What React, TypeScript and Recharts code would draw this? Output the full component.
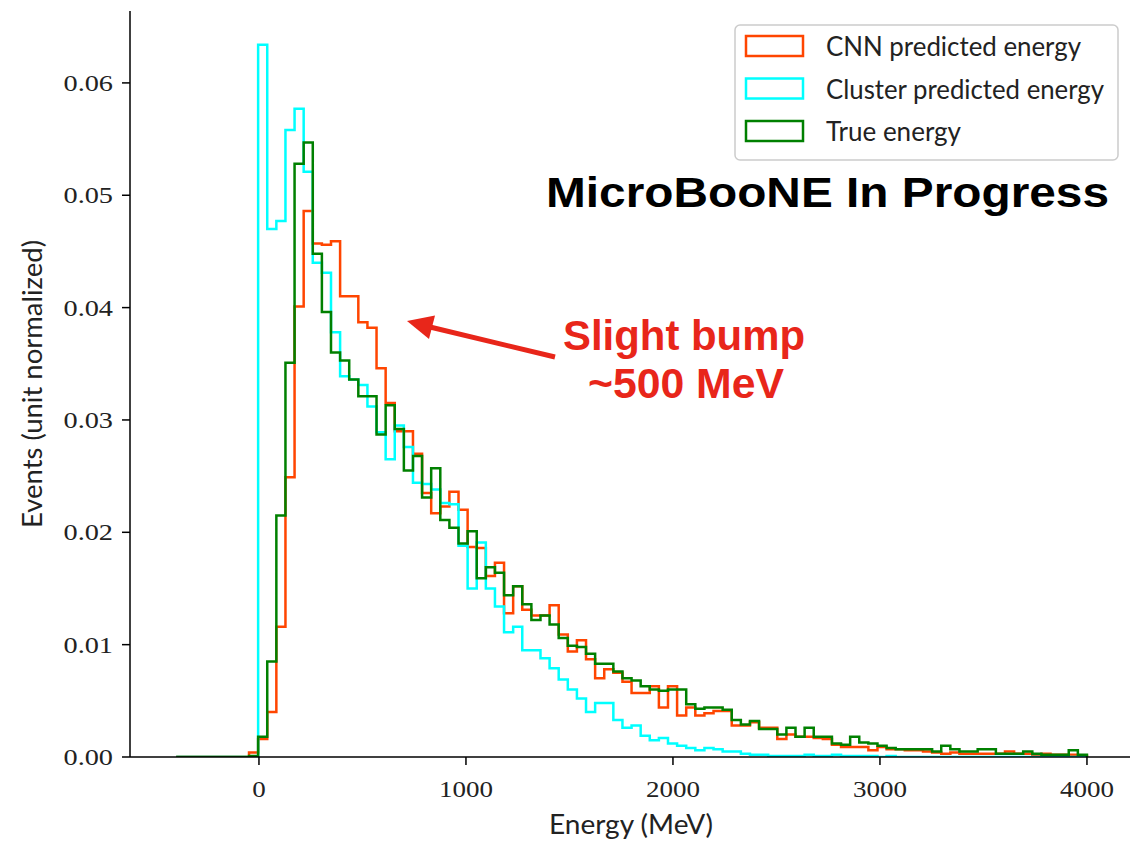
import React from 'react';
import { ComposedChart, Line, XAxis, YAxis, Legend } from 'recharts';

const BIN_START = -400;
const BIN_WIDTH = 44;

const cnnEnergy = [
  0, 0, 0, 0, 0, 0, 0, 0, 0.0004, 0.0016,
  0.0040, 0.0116, 0.0249, 0.0401, 0.0486, 0.0457, 0.0456, 0.0459, 0.0410, 0.0410,
  0.0387, 0.0382, 0.0346, 0.0315, 0.0290, 0.0290, 0.0270, 0.0235, 0.0217, 0.0223,
  0.0236, 0.0220, 0.0187, 0.0186, 0.0161, 0.0173, 0.0128, 0.0152, 0.0131, 0.0126,
  0.0126, 0.0135, 0.0109, 0.0094, 0.0104, 0.0087, 0.0070, 0.0078, 0.0075, 0.0067,
  0.0057, 0.0057, 0.0063, 0.0044, 0.0063, 0.0037, 0.0044, 0.0037, 0.0039, 0.0041,
  0.0041, 0.0028, 0.0028, 0.0031, 0.0026, 0.0026, 0.0016, 0.0020, 0.0018, 0.0018,
  0.0017, 0.0016, 0.0011, 0.0009, 0.0009, 0.0009, 0.0006, 0.0009, 0.0007, 0.0007,
  0.0006, 0.0006, 0.0005, 0.0004, 0.0003, 0.0004, 0.0003, 0.0003, 0.0003, 0.0003,
  0.0003, 0.0005, 0.0003, 0.0003, 0.0002, 0.0003, 0.0002, 0.0002, 0.0002, 0.0001,
];

const clusterEnergy = [
  0, 0, 0, 0, 0, 0, 0, 0, 0, 0.0634,
  0.0470, 0.0477, 0.0558, 0.0577, 0.0521, 0.0440, 0.0431, 0.0378, 0.0339, 0.0336,
  0.0331, 0.0312, 0.0289, 0.0265, 0.0295, 0.0276, 0.0244, 0.0243, 0.0238, 0.0226,
  0.0225, 0.0188, 0.0150, 0.0191, 0.0150, 0.0134, 0.0111, 0.0116, 0.0095, 0.0095,
  0.0088, 0.0079, 0.0069, 0.0060, 0.0052, 0.0040, 0.0048, 0.0048, 0.0033, 0.0026,
  0.0028, 0.0019, 0.0015, 0.0017, 0.0012, 0.0010, 0.0008, 0.0006, 0.0008, 0.0007,
  0.0005, 0.0005, 0.0003, 0.0002, 0.0002, 0.0001, 0.0001, 0.0001, 0.0001, 0.0002,
  0.0001, 0.0001, 0.0002, 0.0001, 0.0001, 0.0001, 0.0001, 0, 0.0001, 0,
  0, 0, 0, 0, 0, 0, 0, 0, 0, 0,
  0, 0, 0, 0, 0, 0, 0, 0, 0, 0,
];

const trueEnergy = [
  0, 0, 0, 0, 0, 0, 0, 0, 0.0001, 0.0018,
  0.0085, 0.0215, 0.0351, 0.0528, 0.0547, 0.0448, 0.0396, 0.0360, 0.0353, 0.0336,
  0.0321, 0.0321, 0.0287, 0.0313, 0.0292, 0.0255, 0.0268, 0.0231, 0.0257, 0.0211,
  0.0204, 0.0190, 0.0201, 0.0159, 0.0169, 0.0164, 0.0144, 0.0152, 0.0136, 0.0122,
  0.0126, 0.0118, 0.0106, 0.0099, 0.0098, 0.0092, 0.0083, 0.0083, 0.0076, 0.0070,
  0.0068, 0.0063, 0.0060, 0.0059, 0.0060, 0.0060, 0.0047, 0.0043, 0.0044, 0.0044,
  0.0042, 0.0033, 0.0029, 0.0032, 0.0025, 0.0025, 0.0020, 0.0026, 0.0018, 0.0026,
  0.0018, 0.0018, 0.0012, 0.0011, 0.0018, 0.0013, 0.0012, 0.0010, 0.0008, 0.0007,
  0.0007, 0.0007, 0.0007, 0.0005, 0.0010, 0.0007, 0.0005, 0.0005, 0.0007, 0.0007,
  0.0003, 0.0003, 0.0003, 0.0005, 0.0003, 0.0002, 0.0002, 0.0002, 0.0006, 0.0002,
];

const xTicks = [0, 1000, 2000, 3000, 4000];
const yTicks = [0, 0.01, 0.02, 0.03, 0.04, 0.05, 0.06];

const SERIES = [
  { key: 'cnn', name: 'CNN predicted energy', color: '#ff4500' },
  { key: 'cluster', name: 'Cluster predicted energy', color: '#00ffff' },
  { key: 'truth', name: 'True energy', color: '#008000' },
];

const data: any[] = [];
for (let i = 0; i < cnnEnergy.length; i++) {
  data.push({
    x: BIN_START + i * BIN_WIDTH,
    cnn: cnnEnergy[i],
    cluster: clusterEnergy[i],
    truth: trueEnergy[i],
  });
}
const lastEdge = BIN_START + cnnEnergy.length * BIN_WIDTH;
const n = cnnEnergy.length - 1;
data.push({ x: lastEdge, cnn: cnnEnergy[n], cluster: clusterEnergy[n], truth: trueEnergy[n] });
data.push({ x: lastEdge, cnn: 0, cluster: 0, truth: 0 });

const SERIF = '"Liberation Serif", "DejaVu Serif", serif';
const SANS = 'Lato, "Open Sans", "Liberation Sans", sans-serif';
const BOLD = '"Liberation Sans", Arial, sans-serif';
const RED = '#e8261a';

const labelWidth = (s: string) => {
  let w = 0;
  for (const c of s) w += c === '.' ? 9 : 13.5;
  return w;
};

const XTick = (props: any) => {
  const { x, y, payload } = props;
  const s = String(payload.value);
  return (
    <text x={x} y={y + 32} textAnchor="middle" fontFamily={SERIF} fontSize={24} fill="#222"
      textLength={labelWidth(s)} lengthAdjust="spacingAndGlyphs">{s}</text>
  );
};

const YTick = (props: any) => {
  const { x, y, payload } = props;
  const s = Number(payload.value).toFixed(2);
  return (
    <text x={x - 9} y={y + 8} textAnchor="end" fontFamily={SERIF} fontSize={24} fill="#222"
      textLength={labelWidth(s)} lengthAdjust="spacingAndGlyphs">{s}</text>
  );
};

const legendWidths = [255, 278, 135];

const LegendBox = (props: any) => {
  const payload = props.payload || [];
  return (
    <svg width={394} height={138} style={{ display: 'block', overflow: 'visible' }}>
      <rect x={1} y={1} width={383} height={135} rx={5} ry={5} fill="#fff" fillOpacity={0.8} stroke="#cccccc" strokeWidth={1.5} />
      {payload.map((p: any, i: number) => {
        const cy = 22 + i * 42.5;
        return (
          <g key={i}>
            <rect x={12} y={cy - 10} width={57} height={20} fill="#fff" stroke={p.color} strokeWidth={2.5} />
            <text x={92} y={cy + 10} fontFamily={SANS} fontSize={27} fill="#222"
              textLength={legendWidths[i]} lengthAdjust="spacingAndGlyphs">{p.value}</text>
          </g>
        );
      })}
    </svg>
  );
};

export default function App() {
  return (
    <div style={{ position: 'absolute', left: 0, top: 0, width: 1130, height: 845, overflow: 'hidden', background: '#fff' }}>
      <ComposedChart width={1140} height={845} data={data} margin={{ top: 11, right: 7.5, bottom: 0, left: 0 }}>
        <XAxis xAxisId="main" dataKey="x" type="number" domain={[-623, 4220]} ticks={xTicks}
          allowDataOverflow height={88} tickSize={8} tickMargin={0}
          axisLine={{ stroke: '#000', strokeWidth: 1.5 }} tickLine={{ stroke: '#000', strokeWidth: 1.5 }}
          tick={XTick} interval={0} />
        <XAxis xAxisId="top" orientation="top" dataKey="x" type="number" domain={[-623, 4220]}
          height={0} tick={false} tickLine={false} axisLine={{ stroke: '#000', strokeWidth: 1.5 }} />
        <YAxis type="number" domain={[0, 0.0664]} ticks={yTicks} allowDataOverflow width={130}
          tickSize={8} tickMargin={0} interval={0}
          axisLine={{ stroke: '#000', strokeWidth: 1.5 }} tickLine={{ stroke: '#000', strokeWidth: 1.5 }}
          tick={YTick} />
        {SERIES.map((s) => (
          <Line key={s.key} xAxisId="main" dataKey={s.key} name={s.name} type="stepAfter" stroke={s.color}
            strokeWidth={2.5} dot={false} activeDot={false} isAnimationActive={false} />
        ))}
        <Legend layout="horizontal" verticalAlign="middle" align="center" content={LegendBox}
          wrapperStyle={{ position: 'absolute', left: 734, top: 24, width: 394, height: 138 }} />
      </ComposedChart>
      <svg width={1130} height={845} style={{ position: 'absolute', left: 0, top: 0, pointerEvents: 'none' }}>
        <text x={631} y={834} textAnchor="middle" fontFamily={SANS} fontSize={27} fill="#222"
          textLength={164} lengthAdjust="spacingAndGlyphs">Energy (MeV)</text>
        <text transform="translate(42,384) rotate(-90)" textAnchor="middle" fontFamily={SANS} fontSize={27} fill="#222"
          textLength={288} lengthAdjust="spacingAndGlyphs">Events (unit normalized)</text>
        <text x={546} y={207} fontFamily={BOLD} fontWeight="bold" fontSize={43} fill="#000"
          textLength={563} lengthAdjust="spacingAndGlyphs">MicroBooNE In Progress</text>
        <text x={563} y={350} fontFamily={BOLD} fontWeight="bold" fontSize={42} fill={RED}
          textLength={242} lengthAdjust="spacingAndGlyphs">Slight bump</text>
        <text x={588} y={398} fontFamily={BOLD} fontWeight="bold" fontSize={42} fill={RED}
          textLength={196} lengthAdjust="spacingAndGlyphs">~500 MeV</text>
        <line x1={555} y1={357} x2={430} y2={327} stroke={RED} strokeWidth={5} />
        <polygon points="407,321 435,315.5 429,339" fill={RED} />
      </svg>
    </div>
  );
}
